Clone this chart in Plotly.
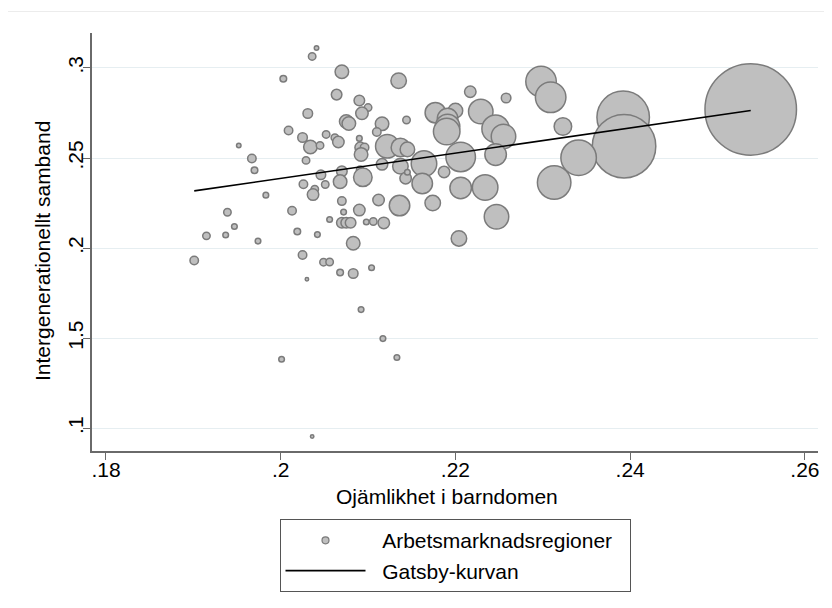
import plotly.graph_objects as go

# Ojämlikhet i barndomen (x), intergenerationellt samband (y), befolkning (tusental)
region_x = [
    0.2041, 0.2036, 0.2070, 0.2003, 0.2135, 0.2064, 0.2090, 0.2100, 0.2093, 0.2031,
    0.2144, 0.2075, 0.2078, 0.2116, 0.2009, 0.2110, 0.2025, 0.2052, 0.2062, 0.2066,
    0.2090, 0.2034, 0.2045, 0.2091, 0.2096, 0.2092, 0.2122, 0.2137, 0.2145, 0.1952,
    0.1967, 0.2029, 0.1970, 0.2046, 0.2070, 0.2091, 0.2094, 0.2116, 0.2137, 0.2068,
    0.2026, 0.2051, 0.2039, 0.2037, 0.1983, 0.2070, 0.2112, 0.2136, 0.2090, 0.1939,
    0.2013, 0.2072, 0.1947, 0.2056, 0.2070, 0.2075, 0.2080, 0.2098, 0.2106, 0.2118,
    0.1915, 0.1937, 0.1974, 0.2019, 0.2042, 0.2083, 0.1901, 0.2025, 0.2049, 0.2056,
    0.2068, 0.2083, 0.2104, 0.2030, 0.2092, 0.2117, 0.2001, 0.2133, 0.2036, 0.2217,
    0.2258, 0.2298, 0.2309, 0.2177, 0.2200, 0.2191, 0.2191, 0.2190, 0.2229, 0.2246,
    0.2255, 0.2323, 0.2392, 0.2393, 0.2538, 0.2341, 0.2313, 0.2206, 0.2246, 0.2164,
    0.2162, 0.2187, 0.2143, 0.2145, 0.2206, 0.2234, 0.2174, 0.2247, 0.2204,
]
region_y = [
    0.3111, 0.3064, 0.2979, 0.2940, 0.2929, 0.2852, 0.2819, 0.2780, 0.2748, 0.2747,
    0.2711, 0.2703, 0.2692, 0.2690, 0.2653, 0.2644, 0.2614, 0.2631, 0.2613, 0.2589,
    0.2609, 0.2561, 0.2570, 0.2559, 0.2559, 0.2520, 0.2565, 0.2559, 0.2548, 0.2570,
    0.2497, 0.2487, 0.2432, 0.2407, 0.2427, 0.2435, 0.2393, 0.2465, 0.2454, 0.2369,
    0.2355, 0.2353, 0.2327, 0.2297, 0.2294, 0.2261, 0.2267, 0.2236, 0.2211, 0.2199,
    0.2207, 0.2200, 0.2120, 0.2159, 0.2141, 0.2141, 0.2141, 0.2145, 0.2148, 0.2140,
    0.2068, 0.2073, 0.2039, 0.2092, 0.2075, 0.2027, 0.1931, 0.1962, 0.1922, 0.1923,
    0.1865, 0.1859, 0.1891, 0.1827, 0.1659, 0.1498, 0.1383, 0.1393, 0.0954, 0.2868,
    0.2833, 0.2925, 0.2837, 0.2752, 0.2763, 0.2719, 0.2675, 0.2647, 0.2758, 0.2662,
    0.2620, 0.2675, 0.2726, 0.2566, 0.2770, 0.2502, 0.2364, 0.2506, 0.2519, 0.2469,
    0.2359, 0.2423, 0.2388, 0.2421, 0.2334, 0.2337, 0.2250, 0.2174, 0.2054,
]
region_pop = [
    5, 14, 46, 11, 60, 28, 28, 14, 39, 23,
    14, 46, 46, 46, 18, 18, 23, 14, 14, 33,
    8, 46, 14, 28, 18, 46, 138, 86, 53, 5,
    18, 14, 11, 23, 28, 14, 86, 33, 60, 46,
    18, 14, 14, 33, 8, 18, 33, 105, 33, 14,
    18, 8, 8, 8, 28, 28, 28, 8, 14, 33,
    14, 8, 8, 11, 8, 46, 18, 18, 14, 14,
    11, 23, 8, 3, 8, 8, 8, 8, 3, 33,
    23, 233, 233, 105, 53, 105, 150, 176, 150, 189,
    150, 77, 689, 1008, 2093, 315, 281, 218, 116, 163,
    105, 33, 33, 8, 116, 163, 60, 150, 60,
]

# Gatsby-kurvan: linjär anpassning
fit_intercept = 0.0987
fit_slope = 0.700

tick_x = [0.18, 0.20, 0.22, 0.24, 0.26]
tick_x_text = [".18", ".2", ".22", ".24", ".26"]
tick_y = [0.10, 0.15, 0.20, 0.25, 0.30]
tick_y_text = [".1", "1.5", ".2", ".25", ".3"]
x_title = "Ojämlikhet i barndomen"
y_title = "Intergenerationellt samband"

FONT = "Liberation Sans, Arial, sans-serif"
FS = 21
FILL = "#bfbfbf"
EDGE = "#7b7b7b"
AXIS = "#6a6a6a"
NB = "\u00a0"

max_diam = 91.5
sizeref = 2 * max(region_pop) / max_diam ** 2

fig = go.Figure()
fig.add_trace(go.Scatter(
    x=region_x, y=region_y, mode="markers",
    marker=dict(size=region_pop, sizemode="area", sizeref=sizeref,
                color=FILL, opacity=1, line=dict(color=EDGE, width=1.5)),
    showlegend=False, hoverinfo="x+y",
))
# legend entry for bubbles
fig.add_trace(go.Scatter(
    x=[None], y=[None], mode="markers",
    name=NB * 2 + "Arbetsmarknadsregioner" + NB * 2,
    marker=dict(size=7, color=FILL, line=dict(color=EDGE, width=1.2)),
))
x0, x1 = min(region_x), max(region_x)
fig.add_trace(go.Scatter(
    x=[x0, x1], y=[fit_intercept + fit_slope * x0, fit_intercept + fit_slope * x1],
    mode="lines", name=NB * 2 + "Gatsby-kurvan", line=dict(color="black", width=1.6),
))

fig.update_layout(
    width=824, height=600,
    margin=dict(l=84, r=14, t=25, b=157),
    paper_bgcolor="white", plot_bgcolor="white",
    font=dict(family=FONT, size=FS, color="black"),
    xaxis=dict(
        range=[0.1784, 0.2615], tickvals=tick_x, ticktext=tick_x_text,
        showline=True, linecolor=AXIS, linewidth=1.5, ticks="outside",
        ticklen=7, tickwidth=1.3, tickcolor=AXIS, showgrid=False, zeroline=False,
        ticklabelstandoff=-8, tickfont=dict(size=FS),
    ),
    yaxis=dict(
        range=[0.0874, 0.3194], tickvals=tick_y, ticktext=tick_y_text,
        tickangle=-90, showline=True, linecolor=AXIS, linewidth=1.5,
        ticks="outside", ticklen=7, tickwidth=1.3, tickcolor=AXIS,
        showgrid=True, gridcolor="#e6eef1", gridwidth=1, zeroline=False,
        ticklabelstandoff=-8, tickfont=dict(size=FS),
    ),
    legend=dict(
        x=0.5, xanchor="center", y=-0.163, yanchor="top",
        bordercolor="#555555", borderwidth=1, bgcolor="white",
        font=dict(size=FS), itemwidth=80, tracegroupgap=0,
    ),
    annotations=[
        dict(text=x_title, xref="paper", yref="paper", x=355 / 726, y=-45 / 418,
             xanchor="center", yanchor="middle", showarrow=False,
             font=dict(size=FS)),
        dict(text=y_title, xref="paper", yref="paper", x=-49 / 726, y=200 / 418,
             xanchor="center", yanchor="middle", textangle=-90, showarrow=False,
             font=dict(size=FS)),
    ],
    shapes=[dict(type="rect", xref="paper", yref="paper",
                 x0=-86 / 726, x1=1.04, y0=-0.5, y1=(451 - 11.5) / 418,
                 line=dict(color="#ececec", width=1), layer="below")],
)

fig.write_html("out.html")
